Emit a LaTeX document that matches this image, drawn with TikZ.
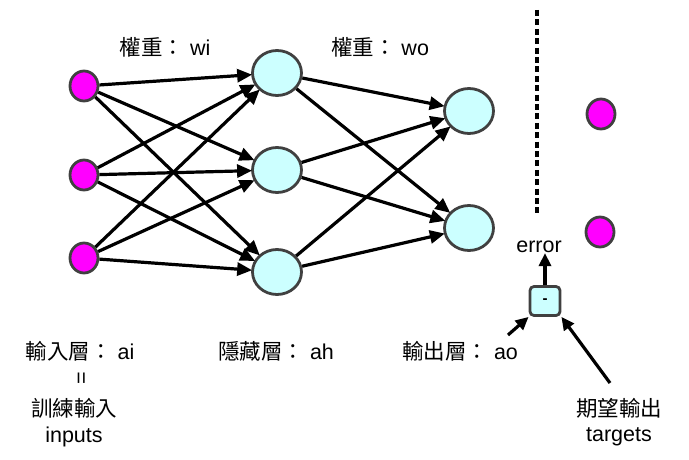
\documentclass[tikz,border=0pt]{standalone}
\usepackage{fontspec}
\setmainfont{Liberation Sans}
\newfontfamily\cjk{Noto Sans CJK TC}
\usetikzlibrary{arrows.meta}
\definecolor{cyanfill}{HTML}{CCFFFF}
\definecolor{magfill}{HTML}{FF00FF}
\definecolor{edgegrey}{HTML}{404040}
\tikzset{
  x=1pt, y=-1pt,
  inp/.style={ellipse, draw=edgegrey, line width=2.8pt, fill=magfill, minimum width=28pt, minimum height=30pt, inner sep=0pt},
  hid/.style={ellipse, draw=edgegrey, line width=2.8pt, fill=cyanfill, minimum width=49pt, minimum height=45pt, inner sep=0pt},
  conn/.style={line width=3.2pt, -{Triangle[length=15pt,width=13pt]}, shorten >=-1pt},
  sconn/.style={line width=3.2pt, -{Triangle[length=13pt,width=12pt]}},
  lbl/.style={font=\fontsize{21.5}{25}\selectfont, inner sep=0pt},
}
\usetikzlibrary{shapes.geometric}
\begin{document}
\begin{tikzpicture}
\useasboundingbox (0,0) rectangle (689,460);
% nodes
\node[inp] (i1) at (84,86) {};
\node[inp] (i2) at (84,175) {};
\node[inp] (i3) at (84,258) {};
\node[hid] (h1) at (277,73) {};
\node[hid] (h2) at (277,170) {};
\node[hid] (h3) at (277,272) {};
\node[hid] (o1) at (469,111) {};
\node[hid] (o2) at (469,228) {};
\node[inp] (t1) at (601,114) {};
\node[inp] (t2) at (600,232) {};
% connections input -> hidden
\foreach \a in {i1,i2,i3}{
  \foreach \b in {h1,h2,h3}{
    \draw[conn] (\a) -- (\b);
  }
}
\foreach \a in {h1,h2,h3}{
  \foreach \b in {o1,o2}{
    \draw[conn] (\a) -- (\b);
  }
}
% dashed separator
\coordinate (dtop) at (537,10);
\coordinate (dbot) at (537,216);
\draw[line width=3.2pt, dash pattern=on 6pt off 3.4pt] (dtop) -- (dbot);
% error part
\node[lbl] (err) at (539,247) {error};
\node[draw=edgegrey, line width=2.8pt, fill=cyanfill, rounded corners=4pt, minimum width=30pt, minimum height=29pt, inner sep=0pt, font=\fontsize{15}{16}\selectfont\bfseries] (minus) at (545,301) {-};
\draw[sconn] (minus.north) -- (minus.north |- err.south);
\coordinate (aofrom) at (508,335);
\coordinate (tgfrom) at (610,383);
\draw[sconn] (aofrom) -- (minus.south west);
\draw[sconn] (tgfrom) -- (minus.south east);
% labels
\node[lbl] (wi) at (165,47) {{\cjk 權重：} wi};
\node[lbl] (wo) at (380,47) {{\cjk 權重：} wo};
\node[lbl] (ai) at (80,351) {{\cjk 輸入層：} ai};
\node[lbl, rotate=90] (eq) at (83,378) {=};
\node[lbl] (xin) at (74,408) {\cjk 訓練輸入};
\node[lbl] (inputs) at (74,437) {inputs};
\node[lbl] (ah) at (276,351) {{\cjk 隱藏層：} ah};
\node[lbl] (ao) at (460,351) {{\cjk 輸出層：} ao};
\node[lbl] (qw) at (619,408) {\cjk 期望輸出};
\node[lbl] (targets) at (619,437) {targets};
\end{tikzpicture}
\end{document}
